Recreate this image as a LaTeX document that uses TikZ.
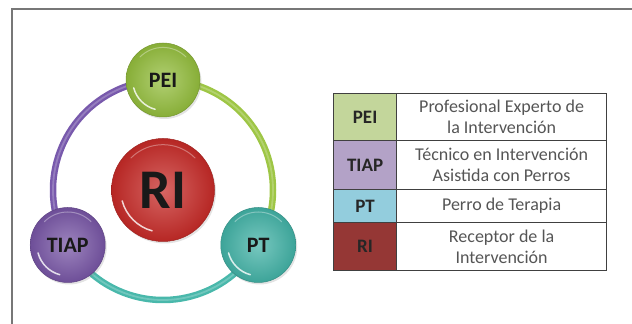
\documentclass[tikz,border=0pt]{standalone}
\usepackage{fontspec}
\setmainfont{Carlito}
\usetikzlibrary{backgrounds,shadows,calc}

% ball colours
\definecolor{peiball}{HTML}{93BD3C}
\definecolor{tiapball}{HTML}{7755A5}
\definecolor{ptball}{HTML}{42B2A6}
\definecolor{riball}{HTML}{C62A27}
% ring colours
\definecolor{peiring}{HTML}{9EC645}
\definecolor{tiapring}{HTML}{7859AC}
\definecolor{ptring}{HTML}{49B8AB}
% legend colours
\definecolor{keypei}{HTML}{C3D69B}
\definecolor{keytiap}{HTML}{B3A2C7}
\definecolor{keypt}{HTML}{93CDDD}
\definecolor{keyri}{HTML}{953735}
\definecolor{tablegrid}{HTML}{404040}
\definecolor{textgray}{HTML}{555555}
\definecolor{framegray}{HTML}{777777}

\begin{document}
\begin{tikzpicture}[x=1pt,y=1pt,
  orb/.style 2 args={circle, inner sep=0pt, minimum size=#2,
    inner color=#1!72!white, outer color=#1!92!black,
    draw=#1!80!black, line width=0.5pt,
    drop shadow={opacity=0.22, shadow xshift=1.5pt, shadow yshift=-2pt},
    path picture={
      \draw[white, line width=1.5pt, opacity=.8, line cap=round]
        ($(path picture bounding box.center)+(195:#2*0.41)$)
        arc[start angle=195, end angle=255, radius=#2*0.41];
      \draw[white, line width=1pt, opacity=.35, line cap=round]
        ($(path picture bounding box.center)+(45:#2*0.44)$)
        arc[start angle=45, end angle=135, radius=#2*0.44];
    }},
  orblabel/.style={font=\fontsize{22}{22}\selectfont\bfseries, text=black!90},
  ring/.style={line width=6.5pt, draw=#1},
  ringshine/.style={line width=1.8pt, draw=white, opacity=.22},
  keycell/.style={draw=tablegrid, line width=1.2pt, minimum width=63pt,
    anchor=north west, inner sep=0pt,
    font=\fontsize{19}{19}\selectfont\bfseries, text=black!85},
  desccell/.style={draw=tablegrid, line width=1.2pt, minimum width=210pt,
    anchor=north west, inner sep=0pt, align=center,
    font=\fontsize{18}{21}\selectfont, text=textgray},
]
\useasboundingbox (0,0) rectangle (632,324);

% outer frame (top and left edges)
\draw[framegray, line width=2.5pt] (12,0) -- (12,315) -- (632,315);

% circular diagram
\coordinate (hub) at (163,134);
\node[orb={riball}{103pt}, font=\fontsize{56}{56}\selectfont\bfseries, text=black!90]
  (ri) at (hub) {RI};
\node[orb={peiball}{74pt}, orblabel] (pei) at ($(hub)+(90:110)$) {PEI};
\node[orb={tiapball}{75pt}, orblabel] (tiap) at ($(hub)+(210:110)$) {TIAP};
\node[orb={ptball}{75pt}, orblabel] (pt) at ($(hub)+(330:110)$) {PT};

\begin{pgfonlayer}{background}
  \draw[ring=tiapring] (tiap.center) arc[start angle=210, end angle=90, radius=110];
  \draw[ring=peiring] (pei.center) arc[start angle=90, end angle=-30, radius=110];
  \draw[ring=ptring] (pt.center) arc[start angle=330, end angle=210, radius=110];
  \draw[ringshine] (tiap.center) arc[start angle=210, end angle=90, radius=110];
  \draw[ringshine] (pei.center) arc[start angle=90, end angle=-30, radius=110];
  \draw[ringshine] (pt.center) arc[start angle=330, end angle=210, radius=110];
\end{pgfonlayer}

% legend table
\node[keycell, fill=keypei, minimum height=47pt] (kpei) at (333,231) {PEI};
\node[desccell, minimum height=47pt] (dpei) at (396,231)
  {Profesional Experto de\\la Intervención};
\node[keycell, fill=keytiap, minimum height=49pt] (ktiap) at (333,184) {TIAP};
\node[desccell, minimum height=49pt] (dtiap) at (396,184)
  {Técnico en Intervención\\Asistida con Perros};
\node[keycell, fill=keypt, minimum height=33pt] (kpt) at (333,135) {PT};
\node[desccell, minimum height=33pt] (dpt) at (396,135) {Perro de Terapia};
\node[keycell, fill=keyri, minimum height=48pt] (kri) at (333,102) {RI};
\node[desccell, minimum height=48pt] (dri) at (396,102)
  {Receptor de la\\Intervención};
\end{tikzpicture}
\end{document}
